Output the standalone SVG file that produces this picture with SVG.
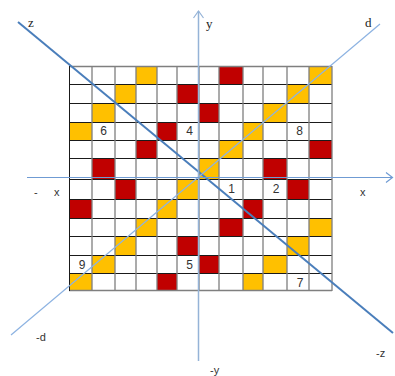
<svg xmlns="http://www.w3.org/2000/svg" width="395" height="376" viewBox="0 0 395 376">
<style>
.y{fill:#ffc000}
.r{fill:#c00000}
.h{stroke:#1a1a1a;stroke-width:1;fill:none}
.v{stroke:#7f7f7f;stroke-width:1.3;fill:none}
.n{font-family:"Liberation Sans",Arial,sans-serif;font-size:12px;fill:#333;text-anchor:middle}
.s{font-family:"Liberation Serif","Times New Roman",serif;font-size:13px;fill:#222}
.l{font-family:"Liberation Sans",Arial,sans-serif;font-size:11px;fill:#333}
</style>
<rect width="395" height="376" fill="#fff"/>
<g id="cells">
<rect x="69" y="66" width="263" height="225" fill="#fff"/>
<rect class="y" x="136" y="66" width="21" height="18"/>
<rect class="r" x="219" y="66" width="24" height="18"/>
<rect class="y" x="309" y="66" width="23" height="18"/>
<rect class="y" x="115" y="84" width="21" height="19"/>
<rect class="r" x="177" y="84" width="22" height="19"/>
<rect class="y" x="287" y="84" width="22" height="19"/>
<rect class="y" x="92" y="103" width="23" height="19"/>
<rect class="r" x="199" y="103" width="20" height="19"/>
<rect class="y" x="263" y="103" width="24" height="19"/>
<rect class="y" x="69" y="122" width="23" height="18"/>
<rect class="r" x="157" y="122" width="20" height="18"/>
<rect class="y" x="243" y="122" width="20" height="18"/>
<rect class="r" x="136" y="140" width="21" height="18"/>
<rect class="y" x="219" y="140" width="24" height="18"/>
<rect class="r" x="309" y="140" width="23" height="18"/>
<rect class="r" x="92" y="158" width="23" height="21"/>
<rect class="y" x="199" y="158" width="20" height="21"/>
<rect class="r" x="263" y="158" width="24" height="21"/>
<rect class="r" x="115" y="179" width="21" height="20"/>
<rect class="y" x="177" y="179" width="22" height="20"/>
<rect class="r" x="287" y="179" width="22" height="20"/>
<rect class="r" x="69" y="199" width="23" height="19"/>
<rect class="y" x="157" y="199" width="20" height="19"/>
<rect class="r" x="243" y="199" width="20" height="19"/>
<rect class="y" x="136" y="218" width="21" height="18"/>
<rect class="r" x="219" y="218" width="24" height="18"/>
<rect class="y" x="309" y="218" width="23" height="18"/>
<rect class="y" x="115" y="236" width="21" height="19"/>
<rect class="r" x="177" y="236" width="22" height="19"/>
<rect class="y" x="287" y="236" width="22" height="19"/>
<rect class="y" x="92" y="255" width="23" height="18"/>
<rect class="r" x="199" y="255" width="20" height="18"/>
<rect class="y" x="263" y="255" width="24" height="18"/>
<rect class="y" x="69" y="273" width="23" height="18"/>
<rect class="r" x="157" y="273" width="20" height="18"/>
<rect class="y" x="243" y="273" width="20" height="18"/>
</g>
<g id="grid">
<path class="h" d="M69 84.5H332M69 103.5H332M69 122.5H332M69 140.5H332M69 158.5H332M69 179.5H332M69 199.5H332M69 218.5H332M69 236.5H332M69 255.5H332M69 273.5H332"/>
<path class="v" d="M92 66V291M115 66V291M136 66V291M157 66V291M177 66V291M199 66V291M219 66V291M243 66V291M263 66V291M287 66V291M309 66V291"/>
<path class="v" d="M69 66.5H332M69 290.5H332M332 66V291"/>
<path class="h" d="M69.5 66V291"/>
</g>
<g id="numbers">
<text class="n" x="103.5" y="135">6</text>
<text class="n" x="189.5" y="135">4</text>
<text class="n" x="299.5" y="135">8</text>
<text class="n" x="231.5" y="193">1</text>
<text class="n" x="276" y="193">2</text>
<text class="n" x="82" y="269">9</text>
<text class="n" x="189.5" y="269">5</text>
<text class="n" x="300" y="287">7</text>
</g>
<g id="connectors" fill="none">
<line x1="18" y1="22" x2="393" y2="333" stroke="#4a7ebb" stroke-width="2"/>
<line x1="380" y1="24" x2="11" y2="335" stroke="#8db3e2" stroke-width="1.2"/>
<line x1="198.5" y1="11" x2="198.5" y2="361" stroke="#95b3d7" stroke-width="1.5"/>
<path d="M193.5 18L198.5 11L203.5 18" stroke="#95b3d7" stroke-width="1.2"/>
<line x1="27" y1="177.5" x2="392" y2="177.5" stroke="#6f9bd3" stroke-width="1.2"/>
<path d="M386 172.5L392.5 177.5L386 182.5" stroke="#6f9bd3" stroke-width="1.2"/>
</g>
<g id="labels">
<text class="s" x="28" y="27">z</text>
<text class="s" x="206" y="28">y</text>
<text class="s" x="365" y="27">d</text>
<text class="l" x="34" y="196">-</text>
<text class="l" x="54" y="196">x</text>
<text class="l" x="360" y="196">x</text>
<text class="l" x="36" y="341">-d</text>
<text class="l" x="210" y="374">-y</text>
<text class="l" x="376" y="357">-z</text>
</g>
</svg>
